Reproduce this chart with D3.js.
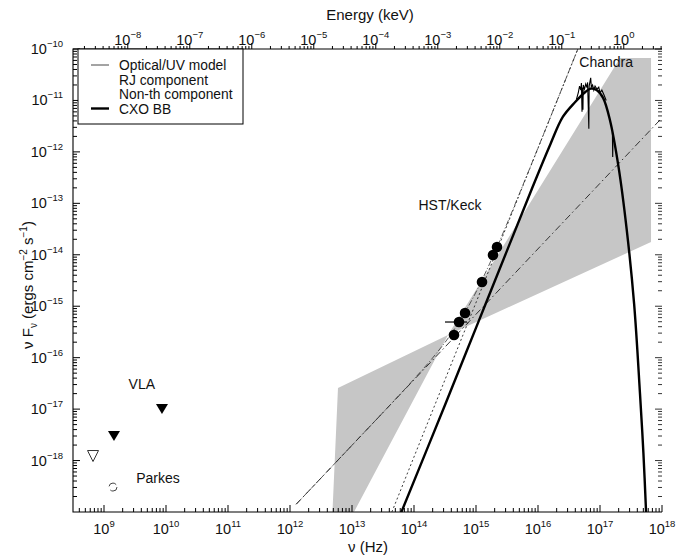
<!DOCTYPE html>
<html><head><meta charset="utf-8">
<script src="https://cdn.jsdelivr.net/npm/d3@7"></script>
<style>
body{margin:0;background:#fff}
svg text{font-family:"Liberation Sans",Arial,Helvetica,sans-serif;fill:#111}
</style></head><body>
<svg id="c" width="689" height="556"></svg>
<script>
// ---------- data (log10 units) ----------
const xTickExps = [9,10,11,12,13,14,15,16,17,18];
const yTickExps = [-10,-11,-12,-13,-14,-15,-16,-17,-18];
const eTickExps = [-8,-7,-6,-5,-4,-3,-2,-1,0];

// HST/Keck optical points
const hstLogNu = [14.645, 14.726, 14.823, 15.097, 15.274, 15.339];
const hstLogF  = [-15.560, -15.307, -15.132, -14.530, -14.005, -13.849];
const hstErrLogNu = [14.50, 14.855]; // horizontal error bar of 2nd point

// radio limits
const vlaLogNu = [9.161, 9.935];
const vlaLogF  = [-17.523, -16.998];
const openTriLogNu = [8.823];
const openTriLogF  = [-17.912];
const parkesLogNu = [9.145];
const parkesLogF  = [-18.515];

// CXO blackbody curve
const bbLogNu = [13.78, 14.5, 15.0, 15.5, 15.9, 16.2, 16.4, 16.6, 16.75, 16.85, 16.95, 17.05, 17.16, 17.3, 17.43, 17.55, 17.645, 17.70, 17.745];
const bbLogF  = [-19.05, -16.92, -15.42, -13.92, -12.72, -11.85, -11.32, -11.03, -10.85, -10.77, -10.80, -10.95, -11.38, -12.3, -13.5, -14.95, -16.7, -17.85, -19.05];

// Chandra spectrum (noisy) near the peak
const chLogNu = [16.62,16.65,16.67,16.69,16.70,16.71,16.715,16.725,16.73,16.75,16.77,16.79,16.80,16.82,16.825,16.85,16.86,16.88,16.90,16.92,16.95,16.98,17.00,17.03,17.06,17.10];
const chLogF  = [-10.98,-10.85,-10.72,-10.80,-10.66,-11.22,-10.75,-11.18,-10.70,-10.78,-10.68,-10.75,-10.65,-11.55,-10.72,-10.56,-10.74,-10.70,-10.80,-10.72,-10.78,-10.74,-10.85,-10.80,-10.88,-11.0];
const chSpikeLogNu = [17.20, 17.205, 17.21];
const chSpikeLogF  = [-11.62, -12.10, -11.66];

// model lines
const ntLogNu = [12.1, 17.97];            // non-thermal component
const ntLogF  = [-18.849, -11.376];
const rjLogNu = [13.643, 16.643];         // RJ component
const rjLogF  = [-19.0, -10.0];
const optLogNu = [12.1, 12.6, 13.1, 13.6, 14.0, 14.3, 14.6, 14.9, 15.2, 15.5, 15.8, 16.1, 16.4, 16.643];
const optLogF  = [-18.849, -18.213, -17.575, -16.937, -16.417, -16.005, -15.537, -14.954, -14.226, -13.395, -12.517, -11.625, -10.727, -10.0];

// grey uncertainty region (bow-tie)
const bandLogNu = [12.774, 14.548, 17.323, 17.823, 17.823, 14.548, 13.032, 12.685];
const bandLogF  = [-16.590, -15.560, -10.175, -10.175, -13.752, -15.560, -19.0, -19.0];

const legendItems = ["Optical/UV model", "RJ component", "Non-th component", "CXO BB"];

// ---------- layout ----------
const X0 = 73, X1 = 662, Y0 = 49, Y1 = 512;
const svg = d3.select("#c");
const x = d3.scaleLog().domain([10 ** 8.5, 1e18]).range([X0, X1]);
const y = d3.scaleLog().domain([1e-19, 1e-10]).range([Y1, Y0]);
const hPlanckKeV = 4.1357e-18;
const xe = d3.scaleLog().domain([10 ** 8.5 * hPlanckKeV, 1e18 * hPlanckKeV]).range([X0, X1]);

const P = (ln, lf) => [x(10 ** ln), y(10 ** lf)];
const pts = (a, b) => a.map((v, i) => P(v, b[i]));

svg.append("clipPath").attr("id", "clip").append("rect")
  .attr("x", X0).attr("y", Y0).attr("width", X1 - X0).attr("height", Y1 - Y0);
const plot = svg.append("g").attr("clip-path", "url(#clip)");

// grey band
plot.append("path")
  .attr("d", "M" + pts(bandLogNu, bandLogF).join("L") + "Z")
  .attr("fill", "#c6c6c6").attr("stroke", "none");

const line = d3.line();
// non-thermal (dash-dot)
plot.append("path").attr("d", line(pts(ntLogNu, ntLogF)))
  .attr("fill", "none").attr("stroke", "#222").attr("stroke-width", 0.9)
  .attr("stroke-dasharray", "7,3,1.5,3");
// RJ (dotted)
plot.append("path").attr("d", line(pts(rjLogNu, rjLogF)))
  .attr("fill", "none").attr("stroke", "#222").attr("stroke-width", 0.9)
  .attr("stroke-dasharray", "2,2.5");
// Optical/UV model (thin)
plot.append("path").attr("d", d3.line().curve(d3.curveMonotoneX)(pts(optLogNu, optLogF)))
  .attr("fill", "none").attr("stroke", "#333").attr("stroke-width", 0.8)
  .attr("stroke-dasharray", "6,2,1,2");
// BB thick
plot.append("path").attr("d", d3.line().curve(d3.curveCatmullRom.alpha(0.5))(pts(bbLogNu, bbLogF)))
  .attr("fill", "none").attr("stroke", "#000").attr("stroke-width", 2.4);
plot.append("path").attr("d", line(pts(chLogNu, chLogF)))
  .attr("fill", "none").attr("stroke", "#000").attr("stroke-width", 1.1);
plot.append("path").attr("d", line(pts(chSpikeLogNu, chSpikeLogF)))
  .attr("fill", "none").attr("stroke", "#000").attr("stroke-width", 1.1);

// HST points
const e0 = P(hstErrLogNu[0], hstLogF[1]), e1 = P(hstErrLogNu[1], hstLogF[1]);
plot.append("line").attr("x1", e0[0]).attr("x2", e1[0]).attr("y1", e0[1]).attr("y2", e1[1])
  .attr("stroke", "#000").attr("stroke-width", 1.2);
plot.selectAll("circle.hst").data(pts(hstLogNu, hstLogF)).join("circle")
  .attr("cx", d => d[0]).attr("cy", d => d[1]).attr("r", 5.3).attr("fill", "#000");

// radio
const tri = (cx, cy, w, h) => `M${cx - w / 2},${cy - h / 2}L${cx + w / 2},${cy - h / 2}L${cx},${cy + h / 2}Z`;
plot.selectAll("path.vla").data(pts(vlaLogNu, vlaLogF)).join("path")
  .attr("d", d => tri(d[0], d[1], 12, 10)).attr("fill", "#000");
plot.selectAll("path.otri").data(pts(openTriLogNu, openTriLogF)).join("path")
  .attr("d", d => tri(d[0], d[1], 11, 11)).attr("fill", "none").attr("stroke", "#333").attr("stroke-width", 1);
plot.selectAll("circle.pk").data(pts(parkesLogNu, parkesLogF)).join("circle")
  .attr("cx", d => d[0]).attr("cy", d => d[1]).attr("r", 4).attr("fill", "none")
  .attr("stroke", "#444").attr("stroke-width", 1).attr("stroke-dasharray", "9,4");

// annotations
const ann = (t, ln, lf, anchor) => {
  const p = P(ln, lf);
  svg.append("text").attr("x", p[0]).attr("y", p[1]).attr("font-size", 14)
    .attr("text-anchor", anchor).text(t);
};
ann("VLA", 9.61, -16.60, "middle");
ann("Parkes", 9.52, -18.43, "start");
ann("HST/Keck", 14.58, -13.12, "middle");
ann("Chandra", 17.10, -10.35, "middle");

// ---------- axes ----------
const axis = svg.append("g").attr("stroke", "#000").attr("fill", "none");
axis.append("path").attr("d", `M${X1},${Y0}H${X0}V${Y1}H${X1}`).attr("stroke-width", 1.1);

const minorOf = (lo, hi) => {
  const out = [];
  for (let e = lo; e <= hi; e++) for (let m = 2; m <= 9; m++) out.push(m * 10 ** e);
  return out;
};
// bottom
const xMaj = xTickExps.map(e => 10 ** e);
const xMin = minorOf(8, 17).filter(v => x(v) >= X0 && x(v) <= X1);
xMaj.forEach(v => axis.append("line").attr("x1", x(v)).attr("x2", x(v)).attr("y1", Y1).attr("y2", Y1 - 7));
xMin.forEach(v => axis.append("line").attr("x1", x(v)).attr("x2", x(v)).attr("y1", Y1).attr("y2", Y1 - 4));
// left & right
const yMaj = yTickExps.map(e => 10 ** e);
const yMin = minorOf(-19, -11).filter(v => y(v) >= Y0 && y(v) <= Y1);
yMaj.forEach(v => {
  axis.append("line").attr("x1", X0).attr("x2", X0 + 7).attr("y1", y(v)).attr("y2", y(v));
  axis.append("line").attr("x1", X1).attr("x2", X1 - 7).attr("y1", y(v)).attr("y2", y(v)).attr("stroke-width", 0.8);
});
yMin.forEach(v => {
  axis.append("line").attr("x1", X0).attr("x2", X0 + 4).attr("y1", y(v)).attr("y2", y(v));
  axis.append("line").attr("x1", X1).attr("x2", X1 - 4).attr("y1", y(v)).attr("y2", y(v)).attr("stroke-width", 0.8);
});
// top (energy)
const eMaj = eTickExps.map(e => 10 ** e);
const eMin = minorOf(-9, 0).filter(v => xe(v) >= X0 && xe(v) <= X1);
eMaj.forEach(v => axis.append("line").attr("x1", xe(v)).attr("x2", xe(v)).attr("y1", Y0).attr("y2", Y0 - 6));
eMin.forEach(v => axis.append("line").attr("x1", xe(v)).attr("x2", xe(v)).attr("y1", Y0).attr("y2", Y0 - 3));

// tick labels
const pow = (g, e, px, py, anchor) => {
  const t = g.append("text").attr("x", px).attr("y", py).attr("text-anchor", anchor).attr("font-size", 14.5);
  t.append("tspan").text("10");
  t.append("tspan").attr("dy", -7).attr("font-size", 9.5).text(String(e).replace("-", "\u2212"));
  return t;
};
const lbl = svg.append("g");
xTickExps.forEach(e => pow(lbl, e, x(10 ** e), 534, "middle"));
yTickExps.forEach(e => pow(lbl, e, 63, y(10 ** e) + 5, "end"));
eTickExps.forEach(e => pow(lbl, e, xe(10 ** e), 45, "middle"));

// axis titles
svg.append("text").attr("x", 368).attr("y", 552).attr("text-anchor", "middle").attr("font-size", 15).text("\u03bd (Hz)");
svg.append("text").attr("x", 370).attr("y", 20).attr("text-anchor", "middle").attr("font-size", 15).text("Energy (keV)");
const yt = svg.append("text").attr("transform", "translate(33,285) rotate(-90)").attr("text-anchor", "middle").attr("font-size", 15);
yt.append("tspan").text("\u03bd F");
yt.append("tspan").attr("dy", 4).attr("font-size", 10).text("\u03bd");
yt.append("tspan").attr("dy", -4).text(" (ergs cm");
yt.append("tspan").attr("dy", -6).attr("font-size", 10).text("\u22122");
yt.append("tspan").attr("dy", 6).text(" s");
yt.append("tspan").attr("dy", -6).attr("font-size", 10).text("\u22121");
yt.append("tspan").attr("dy", 6).text(")");

// legend
const lg = svg.append("g");
lg.append("rect").attr("x", 78).attr("y", Y0).attr("width", 165).attr("height", 75)
  .attr("fill", "#fff").attr("stroke", "#000").attr("stroke-width", 1);
legendItems.forEach((t, i) => {
  const yy = 65 + i * 14.5;
  lg.append("text").attr("x", 119).attr("y", yy + 5).attr("font-size", 13.8).text(t);
});
lg.append("line").attr("x1", 91).attr("x2", 109).attr("y1", 65).attr("y2", 65).attr("stroke", "#333").attr("stroke-width", 0.9);
lg.append("line").attr("x1", 91).attr("x2", 109).attr("y1", 65 + 3 * 14.5).attr("y2", 65 + 3 * 14.5).attr("stroke", "#000").attr("stroke-width", 2.4);
</script>
</body></html>
